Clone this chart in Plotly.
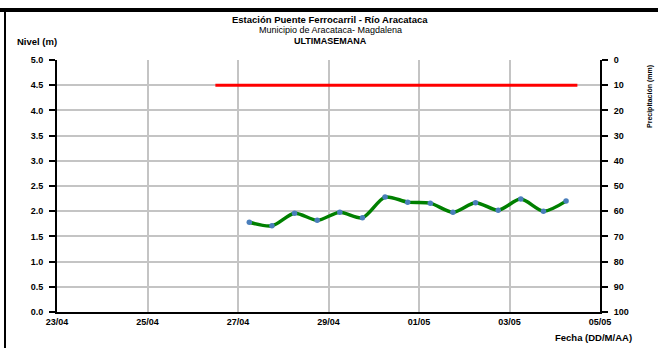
import plotly.graph_objects as go

# nivel del rio, cada 12 horas
fechas = ['2025-04-27 06:00', '2025-04-27 18:00', '2025-04-28 06:00', '2025-04-28 18:00',
          '2025-04-29 06:00', '2025-04-29 18:00', '2025-04-30 06:00', '2025-04-30 18:00',
          '2025-05-01 06:00', '2025-05-01 18:00', '2025-05-02 06:00', '2025-05-02 18:00',
          '2025-05-03 06:00', '2025-05-03 18:00', '2025-05-04 06:00']
nivel = [1.78, 1.71, 1.96, 1.82, 1.98, 1.87, 2.28, 2.18, 2.16, 1.98, 2.17, 2.02, 2.24, 2.00, 2.20]

# nivel de alerta
alerta_fechas = ['2025-04-26 12:00', '2025-05-04 12:00']
alerta_nivel = [4.5, 4.5]

# precipitacion (sin datos)
precip_fechas = []
precip = []

W, H = 658, 348
L, R, T, B = 57, 600, 60, 312   # plot area in pixels


def px(x):
    return (x - L) / (R - L)


def py(y):
    return (B - y) / (B - T)


font = 'Liberation Sans, Arial, sans-serif'

fig = go.Figure()
fig.add_trace(go.Scatter(x=alerta_fechas, y=alerta_nivel, mode='lines',
                         line=dict(color='#ff0000', width=3), showlegend=False))
fig.add_trace(go.Scatter(x=fechas, y=nivel, mode='lines+markers',
                         line=dict(color='#008000', width=3.5, shape='spline', smoothing=0.8),
                         marker=dict(size=5.5, color='#4a7ebb'), showlegend=False))
fig.add_trace(go.Bar(x=precip_fechas, y=precip, yaxis='y2', showlegend=False))

fig.update_layout(
    width=W, height=H, autosize=False,
    margin=dict(l=L, r=W - R, t=T, b=H - B),
    plot_bgcolor='white', paper_bgcolor='white',
    font=dict(family=font, size=9, color='black'),
    xaxis=dict(type='date', range=['2025-04-23', '2025-05-05'],
               tick0='2025-04-23', dtick=2 * 86400000, tickformat='%d/%m',
               showgrid=True, gridcolor='#c4c4c4', gridwidth=2,
               showline=True, linecolor='black', linewidth=2,
               ticks='', tickfont=dict(family=font, size=9, weight='bold'),
               zeroline=False),
    yaxis=dict(range=[0, 5], dtick=0.5, tickformat='.1f',
               showgrid=True, gridcolor='#c4c4c4', gridwidth=1.5,
               showline=True, linecolor='black', linewidth=2,
               ticks='outside', ticklen=6, tickwidth=1.5, tickcolor='black',
               ticklabelstandoff=4,
               tickfont=dict(family=font, size=9, weight='bold'), zeroline=False),
    yaxis2=dict(range=[100, 0], dtick=10, overlaying='y', side='right', anchor='x',
                showgrid=False, showline=True, linecolor='black', linewidth=2,
                ticks='outside', ticklen=6, tickwidth=1.5, tickcolor='black',
                ticklabelstandoff=4,
                tickfont=dict(family=font, size=9, weight='bold'), zeroline=False),
)

ann = [
    dict(text='Estación Puente Ferrocarril - Río Aracataca', x=px(330), y=py(20),
         font=dict(size=9.5, weight='bold')),
    dict(text='Municipio de Aracataca- Magdalena', x=px(330), y=py(30.5),
         font=dict(size=9)),
    dict(text='ULTIMASEMANA', x=px(330), y=py(40.5), font=dict(size=9, weight='bold')),
    dict(text='Nivel (m)', x=px(15), y=py(41), xanchor='left',
         font=dict(size=9.5, weight='bold')),
    dict(text='Fecha (DD/M/AA)', x=px(634), y=py(337), xanchor='right',
         font=dict(size=9.5, weight='bold')),
    dict(text='Precipitación (mm)', x=px(650), y=py(97), textangle=-90,
         font=dict(size=7, weight='bold')),
]
for a in ann:
    a.setdefault('xanchor', 'center')
    fig.add_annotation(xref='paper', yref='paper', showarrow=False, yanchor='middle', **a)

# marco de la hoja
fig.add_shape(type='line', xref='paper', yref='paper', x0=px(0), x1=px(W), y0=py(10), y1=py(10),
              line=dict(color='black', width=4))
fig.add_shape(type='line', xref='paper', yref='paper', x0=px(5), x1=px(5), y0=py(10), y1=py(H),
              line=dict(color='black', width=2))

fig.write_html('out.html', config={'displayModeBar': False},
               post_script="document.body.style.margin='0';")
